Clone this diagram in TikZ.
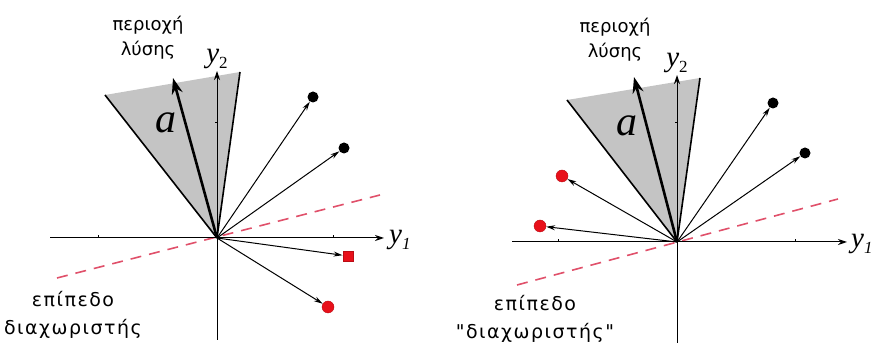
\documentclass[tikz,border=0pt]{standalone}
\usepackage{fontspec}
\setmainfont{DejaVu Sans}[Ligatures=TeXOff]
\newfontfamily\axit{Liberation Serif Italic}
\newfontfamily\axup{Liberation Serif}
\usetikzlibrary{arrows.meta}
\definecolor{conegray}{HTML}{C4C4C4}
\definecolor{ptred}{HTML}{E8101A}
\definecolor{sepred}{HTML}{E0506A}

\begin{document}
\begin{tikzpicture}[x=1pt, y=1pt,
    ax/.style={black, line width=1pt, -{Stealth[length=9pt, width=6pt]}},
    edge/.style={black, line width=1.6pt},
    vec/.style={black, line width=1pt, -{Stealth[length=9pt, width=5pt]}},
    wvec/.style={black, line width=2.6pt, -{Stealth[length=16pt, width=11pt]}},
    sep/.style={sepred, line width=1.6pt, dash pattern=on 11pt off 8pt},
    bdot/.style={circle, fill=black, inner sep=0pt, minimum size=11pt},
    rdot/.style={circle, fill=ptred, draw=ptred!80!black, line width=0.4pt, inner sep=0pt, minimum size=12pt},
    rsq/.style={rectangle, fill=ptred, draw=ptred!80!black, line width=0.4pt, inner sep=0pt, minimum size=10.5pt},
    toplbl/.style={font=\fontsize{18}{25}\selectfont, align=center},
    botlbl/.style={font=\fontsize{19}{28}\selectfont\addfontfeature{LetterSpace=8}, align=center},
    axl/.style={font=\axit\fontsize{29}{29}\selectfont, inner sep=1pt},
    wl/.style={font=\axit\fontsize{42}{42}\selectfont},
    tick/.style={black, line width=0.8pt}]
  \useasboundingbox (0,0) rectangle (873,347);

  % left: all samples on one side
  \begin{scope}[shift={(217,109)}]
    \coordinate (lo) at (0,0);
    \coordinate (lc1) at (-112,143);
    \coordinate (lc2) at (23,166);
    \fill[conegray] (lo) -- (lc1) -- (lc2) -- cycle;
    \draw[edge] (lo) -- (lc1);
    \draw[edge] (lo) -- (lc2);
    \draw[sep] (-160,-40) -- (163,43);
    \coordinate (lxa) at (-167,0);
    \coordinate (lxb) at (167,0);
    \coordinate (lya) at (0,-102);
    \coordinate (lyb) at (0,167);
    \draw[ax] (lxa) -- (lxb);
    \draw[ax] (lya) -- (lyb);
    \draw[tick] (-119,0) -- (-119,2.5);
    \draw[tick] (116,0) -- (116,2.5);
    \draw[tick] (0,116) -- (-2.5,116);
    \node[axl, anchor=west] (ly1) at ([xshift=4pt, yshift=-2pt]lxb) {y\raisebox{-6pt}{\fontsize{17}{17}\selectfont 1}};
    \node[axl, anchor=south] (ly2) at ([xshift=0pt, yshift=1pt]lyb) {y\raisebox{-6pt}{\axup\fontsize{17}{17}\selectfont 2}};
    \node[bdot] (lp1) at (96,141) {};
    \node[bdot] (lp2) at (127,90) {};
    \node[rsq] (ln1) at (131,-18) {};
    \node[rdot] (ln2) at (111,-69) {};
    \draw[vec] (lo) -- (lp1);
    \draw[vec] (lo) -- (lp2);
    \draw[vec] (lo) -- (ln1);
    \draw[vec] (lo) -- (ln2);
    \coordinate (la) at (-44,160);
    \draw[wvec] (lo) -- (la);
    \node[wl] (lal) at (-51,115) {a};
    \node[toplbl] (lsol) at (-69,200) {περιοχή\\λύσης};
    \node[botlbl] (lsep) at (-144,-77) {επίπεδο\\διαχωριστής};
  \end{scope}

  % right: negative samples reflected
  \begin{scope}[shift={(677,105)}]
    \coordinate (ro) at (0,0);
    \coordinate (rc1) at (-110,142);
    \coordinate (rc2) at (23,164);
    \fill[conegray] (ro) -- (rc1) -- (rc2) -- cycle;
    \draw[edge] (ro) -- (rc1);
    \draw[edge] (ro) -- (rc2);
    \draw[sep] (-160,-43) -- (161,43);
    \coordinate (rxa) at (-165,0);
    \coordinate (rxb) at (170,0);
    \coordinate (rya) at (0,-101);
    \coordinate (ryb) at (0,167);
    \draw[ax] (rxa) -- (rxb);
    \draw[ax] (rya) -- (ryb);
    \draw[tick] (-119,0) -- (-119,2.5);
    \draw[tick] (118,0) -- (118,2.5);
    \draw[tick] (0,120) -- (-2.5,120);
    \node[axl, anchor=west] (ry1) at ([xshift=3pt, yshift=-2pt]rxb) {y\raisebox{-6pt}{\fontsize{17}{17}\selectfont 1}};
    \node[axl, anchor=south] (ry2) at ([xshift=0pt, yshift=1pt]ryb) {y\raisebox{-6pt}{\axup\fontsize{17}{17}\selectfont 2}};
    \node[bdot] (rp1) at (96,139) {};
    \node[bdot] (rp2) at (128,89) {};
    \node[rdot] (rn1) at (-115,66) {};
    \node[rdot] (rn2) at (-137,16) {};
    \draw[vec] (ro) -- (rp1);
    \draw[vec] (ro) -- (rp2);
    \draw[vec] (ro) -- (rn1);
    \draw[vec] (ro) -- (rn2);
    \coordinate (ra) at (-43,165);
    \draw[wvec] (ro) -- (ra);
    \node[wl] (ral) at (-50,116) {a};
    \node[toplbl] (rsol) at (-62,202) {περιοχή\\λύσης};
    \node[botlbl] (rsep) at (-142,-77) {επίπεδο\\"διαχωριστής"};
  \end{scope}
\end{tikzpicture}
\end{document}
